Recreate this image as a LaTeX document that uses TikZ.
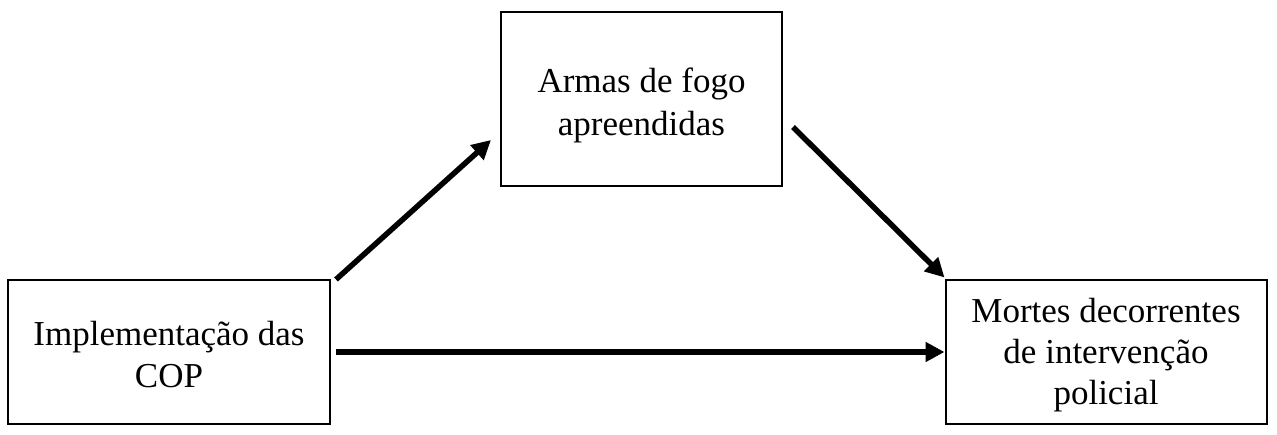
\documentclass[tikz,border=0pt]{standalone}
\usepackage{fontspec}
\setmainfont{Liberation Serif}
\usetikzlibrary{arrows.meta}
\begin{document}
\begin{tikzpicture}[x=1pt,y=-1pt,
  box/.style={draw,line width=2pt,minimum width=#1,inner sep=0pt},
  txt/.style={inner sep=0pt,align=center,font=\fontsize{35}{#1}\selectfont},
  conn/.style={line width=5.5pt,-{Triangle[length=19pt,width=19pt]}}]
\useasboundingbox (0,0) rectangle (1277,435);
\node[box=322pt,minimum height=143pt] (L) at (169,352) {};
\node[box=281pt,minimum height=174pt] (T) at (641.5,99) {};
\node[box=321pt,minimum height=143pt] (R) at (1106,352) {};
\node[txt=42pt] (Lt) at ([yshift=-3pt]L.center) {Implementação das\\COP};
\node[txt=43pt] (Tt) at ([yshift=-6pt]T.center) {Armas de fogo\\apreendidas};
\node[txt=41pt] (Rt) at ([yshift=-3pt]R.center) {Mortes decorrentes\\de intervenção\\policial};
\draw[conn] ([shift={(5,0)}]L.north east) -- ([shift={(-9,-47)}]T.south west);
\draw[conn] ([shift={(10,28)}]T.east) -- ([shift={(0,-2)}]R.north west);
\draw[conn] ([xshift=5pt]L.east) -- (R.west);
\end{tikzpicture}
\end{document}
